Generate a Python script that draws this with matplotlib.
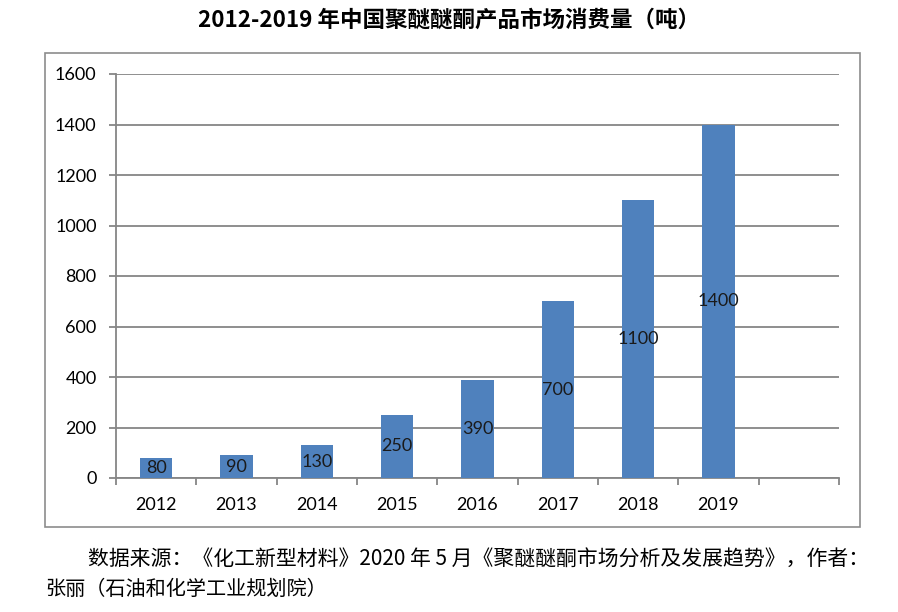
import numpy as np
import matplotlib.pyplot as plt
from matplotlib.patches import Rectangle

years = ["2012", "2013", "2014", "2015", "2016", "2017", "2018", "2019"]
consumption = [80, 90, 130, 250, 390, 700, 1100, 1400]
y_ticks = [0, 200, 400, 600, 800, 1000, 1200, 1400, 1600]

title = "2012-2019 年中国聚醚醚酮产品市场消费量（吨）"
source_line1 = "数据来源：《化工新型材料》2020 年 5 月《聚醚醚酮市场分析及发展趋势》，作者："
source_line2 = "张丽（石油和化学工业规划院）"

plt.rcParams['font.family'] = ['Noto Sans CJK SC', 'DejaVu Sans']
num_font = ["Lato", "DejaVu Sans"]

W, H = 898, 612
fig = plt.figure(figsize=(W / 100, H / 100), dpi=100)

# outer chart frame
fig.patches.append(Rectangle((45 / W, 1 - 527 / H), (860 - 45) / W, (527 - 53) / H,
                             transform=fig.transFigure, fill=False,
                             edgecolor="#8c8c8c", linewidth=1.2))

ax = fig.add_axes([116 / W, 1 - 478 / H, (839 - 116) / W, (478 - 74) / H])

x = np.arange(len(years))
bars = ax.bar(x, consumption, width=0.4, color="#4f81bd", zorder=3)

for rect, v in zip(bars, consumption):
    ax.text(rect.get_x() + rect.get_width() / 2, v / 2, str(v),
            ha="center", va="center", fontsize=13, color="#1a1a1a",
            family=num_font, zorder=4)

ax.set_xlim(-0.5, 8.5)
ax.set_ylim(0, 1600)
ax.set_yticks(y_ticks)
ax.set_yticklabels([str(t) for t in y_ticks], family=num_font, fontsize=13)
ax.yaxis.grid(True, color="#868686", linewidth=1.3, zorder=0)

# category boundary ticks, labels at centres
ax.set_xticks(np.arange(-0.5, 9.0, 1.0))
ax.set_xticklabels([])
ax.set_xticks(x, minor=True)
ax.set_xticklabels(years, minor=True, family=num_font, fontsize=13)
ax.tick_params(axis="x", which="minor", length=0, pad=14)
ax.tick_params(axis="x", which="major", length=5, width=1.3, color="#868686")
ax.tick_params(axis="y", length=5, width=1.3, color="#868686", pad=9)

for s in ["top", "right"]:
    ax.spines[s].set_visible(False)
for s in ["left", "bottom"]:
    ax.spines[s].set_color("#868686")
    ax.spines[s].set_linewidth(1.3)

fig.text(449 / W, 1 - 20 / H, title, ha="center", va="center",
         fontsize=16.2, fontweight="bold")
fig.text(88 / W, 1 - 560 / H, source_line1, ha="left", va="center", fontsize=15)
fig.text(45 / W, 1 - 589 / H, source_line2, ha="left", va="center", fontsize=14.5)

fig.savefig("out.png", dpi=100)
